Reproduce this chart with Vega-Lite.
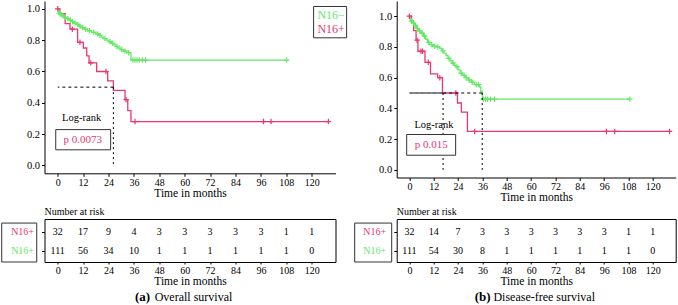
{
  "$schema": "https://vega.github.io/schema/vega-lite/v6.json",
  "padding": {"left": 0.5, "top": 1, "right": 0, "bottom": 0},
  "background": "white",
  "config": {
    "view": {"stroke": null},
    "font": "Times New Roman, Liberation Serif, serif",
    "axis": {"grid": false, "labelOverlap": false, "domainColor": "#000", "tickColor": "#000", "labelColor": "#000", "titleColor": "#000", "labelFont": "Times New Roman, Liberation Serif, serif", "titleFont": "Times New Roman, Liberation Serif, serif", "titleFontWeight": "normal", "tickSize": 3, "labelFontSize": 10, "titleFontSize": 11.5},
    "title": {"font": "Times New Roman, Liberation Serif, serif", "fontWeight": "normal", "color": "#000"},
    "text": {"font": "Times New Roman, Liberation Serif, serif"}
  },
  "datasets": {
    "curves": [
      {"panel": "OS", "group": "N16+", "t": 0, "s": 1.0},
      {"panel": "OS", "group": "N16+", "t": 1.0, "s": 0.969},
      {"panel": "OS", "group": "N16+", "t": 3.5, "s": 0.906},
      {"panel": "OS", "group": "N16+", "t": 5.8, "s": 0.87},
      {"panel": "OS", "group": "N16+", "t": 9.4, "s": 0.786},
      {"panel": "OS", "group": "N16+", "t": 12.1, "s": 0.75},
      {"panel": "OS", "group": "N16+", "t": 13.7, "s": 0.70},
      {"panel": "OS", "group": "N16+", "t": 14.8, "s": 0.655},
      {"panel": "OS", "group": "N16+", "t": 18.4, "s": 0.60},
      {"panel": "OS", "group": "N16+", "t": 23.6, "s": 0.54},
      {"panel": "OS", "group": "N16+", "t": 26.3, "s": 0.48},
      {"panel": "OS", "group": "N16+", "t": 31.8, "s": 0.42},
      {"panel": "OS", "group": "N16+", "t": 33.1, "s": 0.35},
      {"panel": "OS", "group": "N16+", "t": 34.6, "s": 0.28},
      {"panel": "OS", "group": "N16+", "t": 127.9, "s": 0.28},
      {"panel": "OS", "group": "N16-", "t": 0, "s": 1.0},
      {"panel": "OS", "group": "N16-", "t": 0.5, "s": 0.973},
      {"panel": "OS", "group": "N16-", "t": 1.2, "s": 0.964},
      {"panel": "OS", "group": "N16-", "t": 2, "s": 0.955},
      {"panel": "OS", "group": "N16-", "t": 3, "s": 0.946},
      {"panel": "OS", "group": "N16-", "t": 4.2, "s": 0.937},
      {"panel": "OS", "group": "N16-", "t": 5.5, "s": 0.928},
      {"panel": "OS", "group": "N16-", "t": 6.5, "s": 0.918},
      {"panel": "OS", "group": "N16-", "t": 7.5, "s": 0.909},
      {"panel": "OS", "group": "N16-", "t": 9, "s": 0.9},
      {"panel": "OS", "group": "N16-", "t": 10, "s": 0.89},
      {"panel": "OS", "group": "N16-", "t": 11, "s": 0.88},
      {"panel": "OS", "group": "N16-", "t": 12.5, "s": 0.87},
      {"panel": "OS", "group": "N16-", "t": 14, "s": 0.86},
      {"panel": "OS", "group": "N16-", "t": 16, "s": 0.85},
      {"panel": "OS", "group": "N16-", "t": 18, "s": 0.84},
      {"panel": "OS", "group": "N16-", "t": 19.5, "s": 0.83},
      {"panel": "OS", "group": "N16-", "t": 20.5, "s": 0.82},
      {"panel": "OS", "group": "N16-", "t": 21.5, "s": 0.81},
      {"panel": "OS", "group": "N16-", "t": 23, "s": 0.80},
      {"panel": "OS", "group": "N16-", "t": 24, "s": 0.79},
      {"panel": "OS", "group": "N16-", "t": 25.5, "s": 0.78},
      {"panel": "OS", "group": "N16-", "t": 26.5, "s": 0.77},
      {"panel": "OS", "group": "N16-", "t": 27.5, "s": 0.76},
      {"panel": "OS", "group": "N16-", "t": 28.5, "s": 0.75},
      {"panel": "OS", "group": "N16-", "t": 29.5, "s": 0.74},
      {"panel": "OS", "group": "N16-", "t": 31, "s": 0.73},
      {"panel": "OS", "group": "N16-", "t": 32.5, "s": 0.72},
      {"panel": "OS", "group": "N16-", "t": 34.6, "s": 0.673},
      {"panel": "OS", "group": "N16-", "t": 108.2, "s": 0.673},
      {"panel": "DFS", "group": "N16+", "t": 0, "s": 1.0},
      {"panel": "DFS", "group": "N16+", "t": 1.1, "s": 0.969},
      {"panel": "DFS", "group": "N16+", "t": 2.1, "s": 0.906},
      {"panel": "DFS", "group": "N16+", "t": 3.3, "s": 0.844},
      {"panel": "DFS", "group": "N16+", "t": 4.2, "s": 0.772},
      {"panel": "DFS", "group": "N16+", "t": 7.7, "s": 0.70},
      {"panel": "DFS", "group": "N16+", "t": 10.4, "s": 0.625},
      {"panel": "DFS", "group": "N16+", "t": 13.9, "s": 0.60},
      {"panel": "DFS", "group": "N16+", "t": 16.3, "s": 0.50},
      {"panel": "DFS", "group": "N16+", "t": 23.7, "s": 0.435},
      {"panel": "DFS", "group": "N16+", "t": 25.6, "s": 0.375},
      {"panel": "DFS", "group": "N16+", "t": 28.6, "s": 0.25},
      {"panel": "DFS", "group": "N16+", "t": 128.2, "s": 0.25},
      {"panel": "DFS", "group": "N16-", "t": 0, "s": 1.0},
      {"panel": "DFS", "group": "N16-", "t": 0.5, "s": 0.97},
      {"panel": "DFS", "group": "N16-", "t": 1.5, "s": 0.955},
      {"panel": "DFS", "group": "N16-", "t": 2.5, "s": 0.94},
      {"panel": "DFS", "group": "N16-", "t": 3.5, "s": 0.92},
      {"panel": "DFS", "group": "N16-", "t": 4.5, "s": 0.905},
      {"panel": "DFS", "group": "N16-", "t": 5.7, "s": 0.89},
      {"panel": "DFS", "group": "N16-", "t": 7, "s": 0.87},
      {"panel": "DFS", "group": "N16-", "t": 8, "s": 0.85},
      {"panel": "DFS", "group": "N16-", "t": 9, "s": 0.83},
      {"panel": "DFS", "group": "N16-", "t": 10, "s": 0.815},
      {"panel": "DFS", "group": "N16-", "t": 11.5, "s": 0.805},
      {"panel": "DFS", "group": "N16-", "t": 13.5, "s": 0.80},
      {"panel": "DFS", "group": "N16-", "t": 15, "s": 0.79},
      {"panel": "DFS", "group": "N16-", "t": 16, "s": 0.775},
      {"panel": "DFS", "group": "N16-", "t": 17, "s": 0.76},
      {"panel": "DFS", "group": "N16-", "t": 18, "s": 0.745},
      {"panel": "DFS", "group": "N16-", "t": 19, "s": 0.725},
      {"panel": "DFS", "group": "N16-", "t": 20, "s": 0.71},
      {"panel": "DFS", "group": "N16-", "t": 21, "s": 0.695},
      {"panel": "DFS", "group": "N16-", "t": 22, "s": 0.68},
      {"panel": "DFS", "group": "N16-", "t": 23, "s": 0.67},
      {"panel": "DFS", "group": "N16-", "t": 24, "s": 0.65},
      {"panel": "DFS", "group": "N16-", "t": 25, "s": 0.63},
      {"panel": "DFS", "group": "N16-", "t": 26, "s": 0.615},
      {"panel": "DFS", "group": "N16-", "t": 27.5, "s": 0.60},
      {"panel": "DFS", "group": "N16-", "t": 29, "s": 0.585},
      {"panel": "DFS", "group": "N16-", "t": 30.5, "s": 0.57},
      {"panel": "DFS", "group": "N16-", "t": 32, "s": 0.555},
      {"panel": "DFS", "group": "N16-", "t": 34.5, "s": 0.54},
      {"panel": "DFS", "group": "N16-", "t": 35.2, "s": 0.51},
      {"panel": "DFS", "group": "N16-", "t": 36, "s": 0.46},
      {"panel": "DFS", "group": "N16-", "t": 108.6, "s": 0.46}
    ],
    "censor": [
      {"panel": "OS", "group": "N16+", "t": 0, "s": 1.0},
      {"panel": "OS", "group": "N16+", "t": 6.9, "s": 0.87},
      {"panel": "OS", "group": "N16+", "t": 10.5, "s": 0.786},
      {"panel": "OS", "group": "N16+", "t": 15.6, "s": 0.655},
      {"panel": "OS", "group": "N16+", "t": 22.8, "s": 0.60},
      {"panel": "OS", "group": "N16+", "t": 32.3, "s": 0.42},
      {"panel": "OS", "group": "N16+", "t": 36.5, "s": 0.28},
      {"panel": "OS", "group": "N16+", "t": 97.2, "s": 0.28},
      {"panel": "OS", "group": "N16+", "t": 100.8, "s": 0.28},
      {"panel": "OS", "group": "N16+", "t": 127.9, "s": 0.28},
      {"panel": "OS", "group": "N16-", "t": 0.8, "s": 0.973},
      {"panel": "OS", "group": "N16-", "t": 1.6, "s": 0.964},
      {"panel": "OS", "group": "N16-", "t": 2.5, "s": 0.955},
      {"panel": "OS", "group": "N16-", "t": 3.6, "s": 0.946},
      {"panel": "OS", "group": "N16-", "t": 4.8, "s": 0.937},
      {"panel": "OS", "group": "N16-", "t": 6, "s": 0.928},
      {"panel": "OS", "group": "N16-", "t": 7, "s": 0.918},
      {"panel": "OS", "group": "N16-", "t": 8.2, "s": 0.909},
      {"panel": "OS", "group": "N16-", "t": 9.5, "s": 0.9},
      {"panel": "OS", "group": "N16-", "t": 10.5, "s": 0.89},
      {"panel": "OS", "group": "N16-", "t": 11.8, "s": 0.88},
      {"panel": "OS", "group": "N16-", "t": 13.2, "s": 0.87},
      {"panel": "OS", "group": "N16-", "t": 15, "s": 0.86},
      {"panel": "OS", "group": "N16-", "t": 17, "s": 0.85},
      {"panel": "OS", "group": "N16-", "t": 18.8, "s": 0.84},
      {"panel": "OS", "group": "N16-", "t": 20, "s": 0.83},
      {"panel": "OS", "group": "N16-", "t": 22.3, "s": 0.81},
      {"panel": "OS", "group": "N16-", "t": 24.7, "s": 0.79},
      {"panel": "OS", "group": "N16-", "t": 26, "s": 0.78},
      {"panel": "OS", "group": "N16-", "t": 28, "s": 0.76},
      {"panel": "OS", "group": "N16-", "t": 30.2, "s": 0.74},
      {"panel": "OS", "group": "N16-", "t": 31.8, "s": 0.73},
      {"panel": "OS", "group": "N16-", "t": 33.5, "s": 0.72},
      {"panel": "OS", "group": "N16-", "t": 35.5, "s": 0.673},
      {"panel": "OS", "group": "N16-", "t": 36.5, "s": 0.673},
      {"panel": "OS", "group": "N16-", "t": 37.5, "s": 0.673},
      {"panel": "OS", "group": "N16-", "t": 38.5, "s": 0.673},
      {"panel": "OS", "group": "N16-", "t": 40, "s": 0.673},
      {"panel": "OS", "group": "N16-", "t": 41.5, "s": 0.673},
      {"panel": "OS", "group": "N16-", "t": 108.2, "s": 0.673},
      {"panel": "DFS", "group": "N16+", "t": 0, "s": 1.0},
      {"panel": "DFS", "group": "N16+", "t": 3.8, "s": 0.844},
      {"panel": "DFS", "group": "N16+", "t": 5.7, "s": 0.772},
      {"panel": "DFS", "group": "N16+", "t": 6.5, "s": 0.772},
      {"panel": "DFS", "group": "N16+", "t": 9.3, "s": 0.70},
      {"panel": "DFS", "group": "N16+", "t": 15, "s": 0.60},
      {"panel": "DFS", "group": "N16+", "t": 22.9, "s": 0.50},
      {"panel": "DFS", "group": "N16+", "t": 32.2, "s": 0.25},
      {"panel": "DFS", "group": "N16+", "t": 97.1, "s": 0.25},
      {"panel": "DFS", "group": "N16+", "t": 101.2, "s": 0.25},
      {"panel": "DFS", "group": "N16+", "t": 128.2, "s": 0.25},
      {"panel": "DFS", "group": "N16-", "t": 1, "s": 0.97},
      {"panel": "DFS", "group": "N16-", "t": 2, "s": 0.955},
      {"panel": "DFS", "group": "N16-", "t": 3, "s": 0.94},
      {"panel": "DFS", "group": "N16-", "t": 4, "s": 0.92},
      {"panel": "DFS", "group": "N16-", "t": 5, "s": 0.905},
      {"panel": "DFS", "group": "N16-", "t": 6.3, "s": 0.89},
      {"panel": "DFS", "group": "N16-", "t": 7.5, "s": 0.87},
      {"panel": "DFS", "group": "N16-", "t": 9.5, "s": 0.83},
      {"panel": "DFS", "group": "N16-", "t": 11, "s": 0.815},
      {"panel": "DFS", "group": "N16-", "t": 12.5, "s": 0.805},
      {"panel": "DFS", "group": "N16-", "t": 14, "s": 0.80},
      {"panel": "DFS", "group": "N16-", "t": 16.5, "s": 0.775},
      {"panel": "DFS", "group": "N16-", "t": 19.5, "s": 0.725},
      {"panel": "DFS", "group": "N16-", "t": 21.5, "s": 0.695},
      {"panel": "DFS", "group": "N16-", "t": 23.5, "s": 0.67},
      {"panel": "DFS", "group": "N16-", "t": 25.5, "s": 0.63},
      {"panel": "DFS", "group": "N16-", "t": 27, "s": 0.615},
      {"panel": "DFS", "group": "N16-", "t": 28, "s": 0.60},
      {"panel": "DFS", "group": "N16-", "t": 29.5, "s": 0.585},
      {"panel": "DFS", "group": "N16-", "t": 31, "s": 0.57},
      {"panel": "DFS", "group": "N16-", "t": 33, "s": 0.555},
      {"panel": "DFS", "group": "N16-", "t": 34, "s": 0.555},
      {"panel": "DFS", "group": "N16-", "t": 36.5, "s": 0.46},
      {"panel": "DFS", "group": "N16-", "t": 37.5, "s": 0.46},
      {"panel": "DFS", "group": "N16-", "t": 38.5, "s": 0.46},
      {"panel": "DFS", "group": "N16-", "t": 40, "s": 0.46},
      {"panel": "DFS", "group": "N16-", "t": 42, "s": 0.46},
      {"panel": "DFS", "group": "N16-", "t": 108.6, "s": 0.46}
    ],
    "median": [
      {"panel": "OS", "t": 26.3, "s": 0.5},
      {"panel": "DFS", "t": 16.6, "s": 0.5},
      {"panel": "DFS", "t": 35.9, "s": 0.5}
    ],
    "risk": [
      {"panel": "OS", "row": 1, "t": 0, "n": 32}, {"panel": "OS", "row": 1, "t": 12, "n": 17}, {"panel": "OS", "row": 1, "t": 24, "n": 9}, {"panel": "OS", "row": 1, "t": 36, "n": 4}, {"panel": "OS", "row": 1, "t": 48, "n": 3}, {"panel": "OS", "row": 1, "t": 60, "n": 3}, {"panel": "OS", "row": 1, "t": 72, "n": 3}, {"panel": "OS", "row": 1, "t": 84, "n": 3}, {"panel": "OS", "row": 1, "t": 96, "n": 3}, {"panel": "OS", "row": 1, "t": 108, "n": 1}, {"panel": "OS", "row": 1, "t": 120, "n": 1},
      {"panel": "OS", "row": 0, "t": 0, "n": 111}, {"panel": "OS", "row": 0, "t": 12, "n": 56}, {"panel": "OS", "row": 0, "t": 24, "n": 34}, {"panel": "OS", "row": 0, "t": 36, "n": 10}, {"panel": "OS", "row": 0, "t": 48, "n": 1}, {"panel": "OS", "row": 0, "t": 60, "n": 1}, {"panel": "OS", "row": 0, "t": 72, "n": 1}, {"panel": "OS", "row": 0, "t": 84, "n": 1}, {"panel": "OS", "row": 0, "t": 96, "n": 1}, {"panel": "OS", "row": 0, "t": 108, "n": 1}, {"panel": "OS", "row": 0, "t": 120, "n": 0},
      {"panel": "DFS", "row": 1, "t": 0, "n": 32}, {"panel": "DFS", "row": 1, "t": 12, "n": 14}, {"panel": "DFS", "row": 1, "t": 24, "n": 7}, {"panel": "DFS", "row": 1, "t": 36, "n": 3}, {"panel": "DFS", "row": 1, "t": 48, "n": 3}, {"panel": "DFS", "row": 1, "t": 60, "n": 3}, {"panel": "DFS", "row": 1, "t": 72, "n": 3}, {"panel": "DFS", "row": 1, "t": 84, "n": 3}, {"panel": "DFS", "row": 1, "t": 96, "n": 3}, {"panel": "DFS", "row": 1, "t": 108, "n": 1}, {"panel": "DFS", "row": 1, "t": 120, "n": 1},
      {"panel": "DFS", "row": 0, "t": 0, "n": 111}, {"panel": "DFS", "row": 0, "t": 12, "n": 54}, {"panel": "DFS", "row": 0, "t": 24, "n": 30}, {"panel": "DFS", "row": 0, "t": 36, "n": 8}, {"panel": "DFS", "row": 0, "t": 48, "n": 1}, {"panel": "DFS", "row": 0, "t": 60, "n": 1}, {"panel": "DFS", "row": 0, "t": 72, "n": 1}, {"panel": "DFS", "row": 0, "t": 84, "n": 1}, {"panel": "DFS", "row": 0, "t": 96, "n": 1}, {"panel": "DFS", "row": 0, "t": 108, "n": 1}, {"panel": "DFS", "row": 0, "t": 120, "n": 0}
    ]
  },
  "columns": 2,
  "bounds": "flush",
  "align": "each",
  "spacing": {"row": 41, "column": 61.2},
  "concat": [
        {
          "width": 291,
          "height": 172.3,
          "layer": [
            {
              "data": {"name": "curves"},
              "transform": [{"filter": "datum.panel == 'OS'"}],
              "mark": {"type": "line", "interpolate": "step-after", "strokeWidth": 1.3},
              "encoding": {
                "x": {"field": "t", "type": "quantitative", "scale": {"domain": [-6.25, 131.25], "nice": false, "zero": false}, "axis": {"values": [0, 12, 24, 36, 48, 60, 72, 84, 96, 108, 120], "tickCount": 30, "labelOverlap": false, "title": "Time in months", "labelPadding": 1, "titlePadding": 0}},
                "y": {"field": "s", "type": "quantitative", "scale": {"domain": [-0.05, 1.05], "nice": false, "zero": false}, "axis": {"values": [0, 0.2, 0.4, 0.6, 0.8, 1.0], "tickCount": 20, "labelOverlap": false, "format": ".1f", "title": null, "labelFontSize": 10.5, "labelPadding": 2}},
                "color": {"field": "group", "type": "nominal", "scale": {"domain": ["N16+", "N16-"], "range": ["#e8386e", "#66e866"]}, "legend": null}
              }
            },
            {
              "data": {"name": "censor"},
              "transform": [{"filter": "datum.panel == 'OS'"}],
              "mark": {"type": "point", "shape": "M-1,0L1,0M0,-1L0,1", "size": 30, "filled": false, "strokeWidth": 1.2, "opacity": 1},
              "encoding": {
                "x": {"field": "t", "type": "quantitative"},
                "y": {"field": "s", "type": "quantitative"},
                "color": {"field": "group", "type": "nominal", "legend": null}
              }
            },
            {
              "data": {"name": "median"},
              "transform": [{"filter": "datum.panel == 'OS'"}],
              "mark": {"type": "rule", "strokeDash": [3, 3], "color": "#000", "strokeWidth": 1},
              "encoding": {
                "x": {"field": "t", "type": "quantitative"},
                "x2": {"datum": 0},
                "y": {"field": "s", "type": "quantitative"}
              }
            },
            {
              "data": {"name": "median"},
              "transform": [{"filter": "datum.panel == 'OS'"}],
              "mark": {"type": "rule", "strokeDash": [2, 3], "color": "#000", "strokeWidth": 1},
              "encoding": {
                "x": {"field": "t", "type": "quantitative"},
                "y": {"field": "s", "type": "quantitative"},
                "y2": {"datum": 0}
              }
            },
            {
              "data": {"values": [{}]},
              "mark": {"type": "rect", "fill": "white", "stroke": "#333", "strokeWidth": 1},
              "encoding": {
                "x": {"datum": 120.9, "type": "quantitative"},
                "x2": {"datum": 136.5},
                "y": {"datum": 1.015, "type": "quantitative"},
                "y2": {"datum": 0.815}
              }
            },
            {
              "data": {"values": [{}]},
              "mark": {"type": "text", "align": "left", "baseline": "middle", "fontSize": 12, "color": "#66e866", "text": "N16−"},
              "encoding": {"x": {"datum": 122.7, "type": "quantitative"}, "y": {"datum": 0.962, "type": "quantitative"}}
            },
            {
              "data": {"values": [{}]},
              "mark": {"type": "text", "align": "left", "baseline": "middle", "fontSize": 12, "color": "#e8386e", "text": "N16+"},
              "encoding": {"x": {"datum": 122.7, "type": "quantitative"}, "y": {"datum": 0.872, "type": "quantitative"}}
            },
            {
              "data": {"values": [{}]},
              "mark": {"type": "text", "align": "center", "baseline": "middle", "fontSize": 10.5, "color": "#000", "text": "Log-rank"},
              "encoding": {"x": {"datum": 11.3, "type": "quantitative"}, "y": {"datum": 0.30, "type": "quantitative"}}
            },
            {
              "data": {"values": [{}]},
              "mark": {"type": "rect", "fill": "white", "stroke": "#333", "strokeWidth": 1},
              "encoding": {
                "x": {"datum": -0.94, "type": "quantitative"},
                "x2": {"datum": 25.0},
                "y": {"datum": 0.229, "type": "quantitative"},
                "y2": {"datum": 0.1}
              }
            },
            {
              "data": {"values": [{}]},
              "mark": {"type": "text", "align": "center", "baseline": "middle", "fontSize": 11, "color": "#e8386e", "text": "p 0.0073"},
              "encoding": {"x": {"datum": 11.8, "type": "quantitative"}, "y": {"datum": 0.162, "type": "quantitative"}}
            }
          ]
        },
        {
          "width": 279,
          "height": 176.5,
          "layer": [
            {
              "data": {"name": "curves"},
              "transform": [{"filter": "datum.panel == 'DFS'"}],
              "mark": {"type": "line", "interpolate": "step-after", "strokeWidth": 1.3},
              "encoding": {
                "x": {"field": "t", "type": "quantitative", "scale": {"domain": [-6.25, 131.25], "nice": false, "zero": false}, "axis": {"values": [0, 12, 24, 36, 48, 60, 72, 84, 96, 108, 120], "tickCount": 30, "labelOverlap": false, "title": "Time in months", "labelPadding": 1, "titlePadding": 0}},
                "y": {"field": "s", "type": "quantitative", "scale": {"domain": [-0.05, 1.099], "nice": false, "zero": false}, "axis": {"values": [0, 0.2, 0.4, 0.6, 0.8, 1.0], "tickCount": 20, "labelOverlap": false, "format": ".1f", "title": null, "labelFontSize": 10.5, "labelPadding": 2}},
                "color": {"field": "group", "type": "nominal", "scale": {"domain": ["N16+", "N16-"], "range": ["#e8386e", "#66e866"]}, "legend": null}
              }
            },
            {
              "data": {"name": "censor"},
              "transform": [{"filter": "datum.panel == 'DFS'"}],
              "mark": {"type": "point", "shape": "M-1,0L1,0M0,-1L0,1", "size": 30, "filled": false, "strokeWidth": 1.2, "opacity": 1},
              "encoding": {
                "x": {"field": "t", "type": "quantitative"},
                "y": {"field": "s", "type": "quantitative"},
                "color": {"field": "group", "type": "nominal", "legend": null}
              }
            },
            {
              "data": {"name": "median"},
              "transform": [{"filter": "datum.panel == 'DFS'"}],
              "mark": {"type": "rule", "strokeDash": [3, 3], "color": "#000", "strokeWidth": 1},
              "encoding": {
                "x": {"field": "t", "type": "quantitative"},
                "x2": {"datum": 0},
                "y": {"field": "s", "type": "quantitative"}
              }
            },
            {
              "data": {"name": "median"},
              "transform": [{"filter": "datum.panel == 'DFS'"}],
              "mark": {"type": "rule", "strokeDash": [2, 3], "color": "#000", "strokeWidth": 1},
              "encoding": {
                "x": {"field": "t", "type": "quantitative"},
                "y": {"field": "s", "type": "quantitative"},
                "y2": {"datum": 0}
              }
            },
            {
              "data": {"values": [{}]},
              "mark": {"type": "text", "align": "center", "baseline": "middle", "fontSize": 10.5, "color": "#000", "text": "Log-rank"},
              "encoding": {"x": {"datum": 12.1, "type": "quantitative"}, "y": {"datum": 0.295, "type": "quantitative"}}
            },
            {
              "data": {"values": [{}]},
              "mark": {"type": "rect", "fill": "white", "stroke": "#333", "strokeWidth": 1},
              "encoding": {
                "x": {"datum": -1.33, "type": "quantitative"},
                "x2": {"datum": 22.8},
                "y": {"datum": 0.23, "type": "quantitative"},
                "y2": {"datum": 0.095}
              }
            },
            {
              "data": {"values": [{}]},
              "mark": {"type": "text", "align": "center", "baseline": "middle", "fontSize": 11, "color": "#e8386e", "text": "p 0.015"},
              "encoding": {"x": {"datum": 10.8, "type": "quantitative"}, "y": {"datum": 0.16, "type": "quantitative"}}
            }
          ]
        },
        {
          "width": 291,
          "height": 43,
          "view": {"stroke": "#000", "strokeWidth": 1},
          "title": {"text": "Number at risk", "anchor": "start", "frame": "group", "fontSize": 10, "offset": 2},
          "layer": [
            {
              "data": {"name": "risk"},
              "transform": [{"filter": "datum.panel == 'OS'"}],
              "mark": {"type": "text", "fontSize": 10, "color": "#000", "baseline": "middle"},
              "encoding": {
                "x": {"field": "t", "type": "quantitative", "scale": {"domain": [-6.25, 131.25], "nice": false, "zero": false}, "axis": {"values": [0, 12, 24, 36, 48, 60, 72, 84, 96, 108, 120], "tickCount": 30, "labelOverlap": false, "title": "Time in months", "tickSize": 2, "labelPadding": 1, "titlePadding": 0, "domain": false}},
                "y": {"field": "row", "type": "quantitative", "scale": {"domain": [-0.579, 1.684], "nice": false, "zero": false}, "axis": {"values": [0, 1], "tickCount": 10, "labelOverlap": false, "labelExpr": "'N16+'", "labelColor": {"condition": {"test": "datum.value == 1", "value": "#e8386e"}, "value": "#66e866"}, "title": null, "labelPadding": 8, "domain": false}},
                "text": {"field": "n", "type": "quantitative"}
              }
            },
            {
              "data": {"values": [{}]},
              "mark": {"type": "rect", "fill": "transparent", "stroke": "#333", "strokeWidth": 1},
              "encoding": {
                "x": {"datum": -26.46, "type": "quantitative"},
                "x2": {"datum": -9.92},
                "y": {"datum": 1.47, "type": "quantitative"},
                "y2": {"datum": -0.579}
              }
            },
            {
              "data": {"values": [{}]},
              "mark": {"type": "text", "align": "center", "baseline": "middle", "fontSize": 13, "fontWeight": "bold", "color": "#000", "text": "(a)"},
              "encoding": {"x": {"datum": 40.1, "type": "quantitative"}, "y": {"datum": -2.44, "type": "quantitative"}}
            },
            {
              "data": {"values": [{}]},
              "mark": {"type": "text", "align": "left", "baseline": "middle", "fontSize": 12, "color": "#000", "text": "Overall survival"},
              "encoding": {"x": {"datum": 45.8, "type": "quantitative"}, "y": {"datum": -2.44, "type": "quantitative"}}
            }
          ]
        },
        {
          "width": 279,
          "height": 43,
          "view": {"stroke": "#000", "strokeWidth": 1},
          "title": {"text": "Number at risk", "anchor": "start", "frame": "group", "fontSize": 10, "offset": 2},
          "layer": [
            {
              "data": {"name": "risk"},
              "transform": [{"filter": "datum.panel == 'DFS'"}],
              "mark": {"type": "text", "fontSize": 10, "color": "#000", "baseline": "middle"},
              "encoding": {
                "x": {"field": "t", "type": "quantitative", "scale": {"domain": [-6.25, 131.25], "nice": false, "zero": false}, "axis": {"values": [0, 12, 24, 36, 48, 60, 72, 84, 96, 108, 120], "tickCount": 30, "labelOverlap": false, "title": "Time in months", "tickSize": 2, "labelPadding": 1, "titlePadding": 0, "domain": false}},
                "y": {"field": "row", "type": "quantitative", "scale": {"domain": [-0.579, 1.684], "nice": false, "zero": false}, "axis": {"values": [0, 1], "tickCount": 10, "labelOverlap": false, "labelExpr": "'N16+'", "labelColor": {"condition": {"test": "datum.value == 1", "value": "#e8386e"}, "value": "#66e866"}, "title": null, "labelPadding": 8, "domain": false}},
                "text": {"field": "n", "type": "quantitative"}
              }
            },
            {
              "data": {"values": [{}]},
              "mark": {"type": "rect", "fill": "transparent", "stroke": "#333", "strokeWidth": 1},
              "encoding": {
                "x": {"datum": -26.96, "type": "quantitative"},
                "x2": {"datum": -8.72},
                "y": {"datum": 1.47, "type": "quantitative"},
                "y2": {"datum": -0.579}
              }
            },
            {
              "data": {"values": [{}]},
              "mark": {"type": "text", "align": "center", "baseline": "middle", "fontSize": 13, "fontWeight": "bold", "color": "#000", "text": "(b)"},
              "encoding": {"x": {"datum": 36.1, "type": "quantitative"}, "y": {"datum": -2.44, "type": "quantitative"}}
            },
            {
              "data": {"values": [{}]},
              "mark": {"type": "text", "align": "left", "baseline": "middle", "fontSize": 12, "color": "#000", "text": "Disease-free survival"},
              "encoding": {"x": {"datum": 41.4, "type": "quantitative"}, "y": {"datum": -2.44, "type": "quantitative"}}
            }
          ]
        }
  ]
}
